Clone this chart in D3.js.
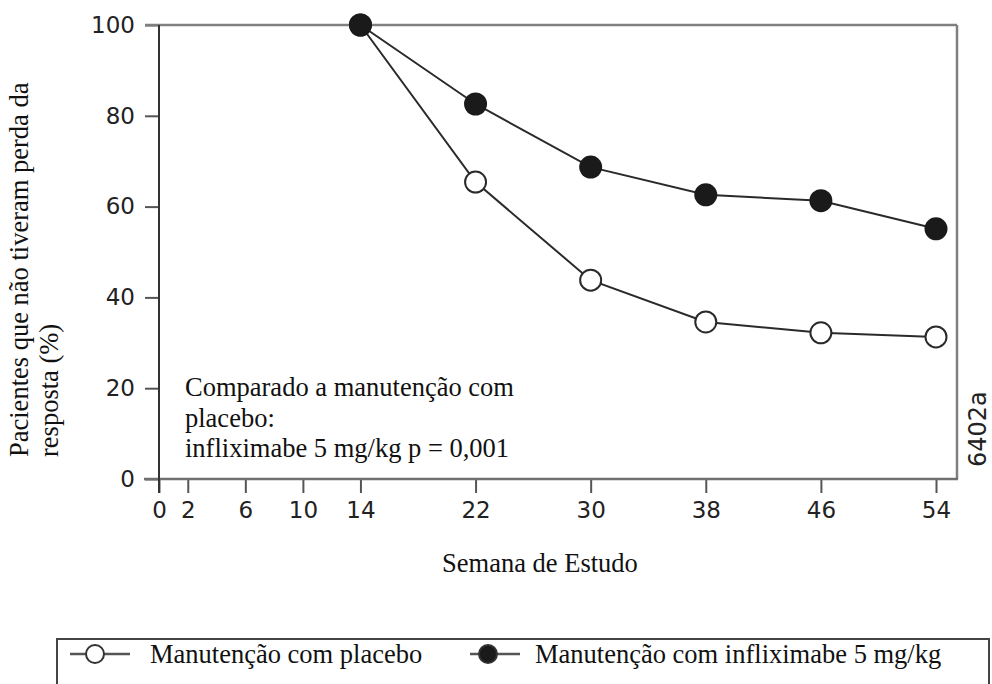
<!DOCTYPE html>
<html>
<head>
<meta charset="utf-8">
<script src="https://cdn.jsdelivr.net/npm/d3@7"></script>
<style>
  body { margin: 0; background: #fff; }
  svg { display: block; }
  .tick text { font-family: "DejaVu Sans", sans-serif; font-size: 23px; fill: #222; }
  .tick line { stroke: #555; stroke-width: 2; }
  .serif { font-family: "Liberation Serif", "Times New Roman", serif; font-size: 26.5px; fill: #111; }
</style>
</head>
<body>
<div class="chart"></div>
<script>
var weeks = [14, 22, 30, 38, 46, 54];
var placebo = [100, 65.4, 43.8, 34.6, 32.2, 31.3];
var infliximab = [100, 82.6, 68.7, 62.6, 61.3, 55.1];
var xTicks = [0, 2, 6, 10, 14, 22, 30, 38, 46, 54];
var yTicks = [0, 20, 40, 60, 80, 100];
var seriesNames = ["Manutenção com placebo", "Manutenção com infliximabe 5 mg/kg"];

var svgWidth = 992;
var svgHeight = 684;

var svg = d3.select(".chart")
  .append("svg")
  .attr("width", svgWidth)
  .attr("height", svgHeight);

var x = d3.scaleLinear().domain([0, 54]).range([159, 936]);
var y = d3.scaleLinear().domain([0, 100]).range([479, 25]);

// axes (ticks + labels only, frame drawn by hand)
var bottomAxis = d3.axisBottom(x).tickValues(xTicks).tickSize(14).tickPadding(9);
var leftAxis = d3.axisLeft(y).tickValues(yTicks).tickSize(14).tickPadding(10);

svg.append("g")
  .attr("transform", "translate(0," + y(0) + ")")
  .call(bottomAxis)
  .call(function(g) { g.select(".domain").remove(); });

svg.append("g")
  .attr("transform", "translate(" + x(0) + ",0)")
  .call(leftAxis)
  .call(function(g) { g.select(".domain").remove(); });

// frame
svg.append("line").attr("x1", 145).attr("x2", 957).attr("y1", y(100)).attr("y2", y(100))
  .attr("stroke", "#808080").attr("stroke-width", 2.5);
svg.append("line").attr("x1", 957).attr("x2", 957).attr("y1", y(100)).attr("y2", y(0))
  .attr("stroke", "#808080").attr("stroke-width", 2.5);
svg.append("line").attr("x1", 144).attr("x2", 958).attr("y1", y(0)).attr("y2", y(0))
  .attr("stroke", "#707070").attr("stroke-width", 2.5);
svg.append("line").attr("x1", x(0)).attr("x2", x(0)).attr("y1", y(100)).attr("y2", y(0) + 14)
  .attr("stroke", "#333").attr("stroke-width", 2);

// series
var line = d3.line()
  .x(function(d) { return x(d[0]); })
  .y(function(d) { return y(d[1]); });

var placeboPts = weeks.map(function(w, i) { return [w, placebo[i]]; });
var inflixPts = weeks.map(function(w, i) { return [w, infliximab[i]]; });

svg.append("path").datum(placeboPts).attr("d", line)
  .attr("fill", "none").attr("stroke", "#2a2a2a").attr("stroke-width", 2);
svg.append("path").datum(inflixPts).attr("d", line)
  .attr("fill", "none").attr("stroke", "#2a2a2a").attr("stroke-width", 2);

svg.selectAll(".open").data(placeboPts).enter().append("circle")
  .attr("class", "open")
  .attr("cx", function(d) { return x(d[0]); })
  .attr("cy", function(d) { return y(d[1]); })
  .attr("r", 10.5)
  .attr("fill", "#fff").attr("stroke", "#2a2a2a").attr("stroke-width", 2);

svg.selectAll(".filled").data(inflixPts).enter().append("circle")
  .attr("class", "filled")
  .attr("cx", function(d) { return x(d[0]); })
  .attr("cy", function(d) { return y(d[1]); })
  .attr("r", 11.5)
  .attr("fill", "#1a1a1a");

// annotation
var note = svg.append("text").attr("class", "serif").attr("x", 185).attr("y", 396);
note.append("tspan").attr("x", 185).attr("dy", 0).text("Comparado a manutenção com");
note.append("tspan").attr("x", 185).attr("dy", 30.5).text("placebo:");
note.append("tspan").attr("x", 185).attr("dy", 30.5).text("infliximabe 5 mg/kg p = 0,001");

// axis titles
svg.append("text").attr("class", "serif")
  .attr("transform", "translate(28,457) rotate(-90)")
  .text("Pacientes que não tiveram perda da");
svg.append("text").attr("class", "serif")
  .attr("transform", "translate(58,457) rotate(-90)")
  .text("resposta (%)");

svg.append("text").attr("class", "serif")
  .attr("x", 540).attr("y", 572)
  .attr("text-anchor", "middle")
  .text("Semana de Estudo");

svg.append("text")
  .attr("transform", "translate(986,467) rotate(-90)")
  .style("font-family", "DejaVu Sans, sans-serif")
  .style("font-size", "24px")
  .style("fill", "#222")
  .text("6402a");

// legend
svg.append("rect").attr("x", 57).attr("y", 639).attr("width", 932).attr("height", 80)
  .attr("fill", "none").attr("stroke", "#444").attr("stroke-width", 2);

var legendY = 654;
var legendItems = [
  { x1: 70, x2: 130, cx: 95, tx: 150, fill: "#fff" },
  { x1: 470, x2: 520, cx: 488, tx: 535, fill: "#1a1a1a" }
];
legendItems.forEach(function(item, i) {
  svg.append("line").attr("x1", item.x1).attr("x2", item.x2)
    .attr("y1", legendY).attr("y2", legendY)
    .attr("stroke", "#555").attr("stroke-width", 2.5);
  svg.append("circle").attr("cx", item.cx).attr("cy", legendY).attr("r", 9)
    .attr("fill", item.fill).attr("stroke", "#333").attr("stroke-width", 2);
  svg.append("text").attr("class", "serif")
    .attr("x", item.tx).attr("y", 663)
    .text(seriesNames[i]);
});
</script>
</body>
</html>
